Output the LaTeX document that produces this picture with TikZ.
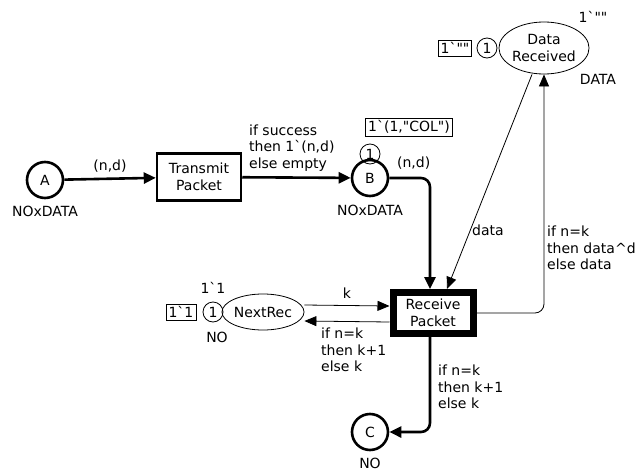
\documentclass[tikz,border=0pt]{standalone}
\usepackage{fontspec}
\newfontfamily\cpnfont{DejaVu Sans}
\usepackage{tikz}
\usetikzlibrary{arrows.meta,shapes,shapes.geometric,positioning}
\tikzstyle{place} = [circle, draw, line width=2.6pt, minimum size=36pt, inner sep=0pt]
\tikzstyle{oplace} = [ellipse, draw, line width=0.8pt, inner sep=0pt]
\tikzstyle{trans} = [rectangle, draw, line width=2.5pt, minimum width=84pt, minimum height=47pt, align=center, inner sep=0pt]
\tikzstyle{token} = [circle, draw, line width=0.8pt, minimum size=20pt, inner sep=0pt]
\tikzstyle{initmark} = [rectangle, draw, line width=0.8pt, inner sep=2.5pt]
\tikzstyle{thickarc} = [line width=2.6pt, ->, >={Triangle[length=12pt,width=11pt]}, rounded corners=9pt]
\tikzstyle{thinarc} = [line width=0.8pt, ->, >={Triangle[length=12pt,width=10pt]}, rounded corners=9pt]
\tikzstyle{inscr} = [align=left, inner sep=0pt]

\begin{document}
\begin{tikzpicture}[x=1pt, y=-1pt, font=\cpnfont\fontsize{14}{16.5}\selectfont]
\useasboundingbox (0,0) rectangle (638,474);
% places
\node (A) [place] at (45,180) {A};
\node (B) [token] at (370,154) {1};
\node (Bpl) [place] at (370,178) {B};
\node (C) [place] at (370,432) {C};
\node (dr) [oplace, minimum width=90pt, minimum height=52pt, align=center] at (544,48) {Data\\Received};
\node (nr) [oplace, minimum width=82pt, minimum height=36pt] at (263,312) {NextRec};

% transitions
\node (tp) [trans] at (199,177) {Transmit\\Packet};
\node (rp) [trans, line width=7pt, minimum width=80pt, minimum height=41pt] at (433,313) {Receive\\Packet};

% markings and colour sets
\node (Atype) at (45,211) {NOxDATA};
\node (Btype) at (370,210) {NOxDATA};
\node (Ctype) at (370,463) {NO};
\node (Bmark) [initmark] at (409,127) {1`(1,"COL")};
\node (drtok) [token] at (487,48) {1};
\node (drmark) [initmark] at (455,48) {1`""};
\node (drinit) at (593,17) {1`""};
\node (drtype) at (598,79) {DATA};
\node (nrtok) [token] at (213,312) {1};
\node (nrmark) [initmark] at (181,312) {1`1};
\node (nrinit) at (213,288) {1`1};
\node (nrtype) at (217,337) {NO};

% arcs
\draw[thickarc] (A) -- node[above=2pt] {(n,d)} (tp);
\draw[thickarc] (tp) -- (Bpl);
\node (tpout) [inscr, anchor=west] at (249,148) {if success\\then 1`(n,d)\\else empty};
\draw[thickarc] (Bpl.east) -| node[pos=0.3, above=4pt] {(n,d)} ([xshift=-3pt]rp.north);
\draw[thinarc] ([xshift=-12pt]dr.south) -- ([xshift=14pt]rp.north);
\node (datalbl) at (488,230) {data};
\draw[thinarc] (rp.east) -| (dr.south);
\node (drout) [inscr, anchor=west] at (547,248) {if n=k\\then data\textasciicircum d\\else data};
\draw[thinarc] ([yshift=7pt]nr.east) -- node[above=3pt] {k} ([yshift=7pt]rp.west);
\draw[thinarc] ([yshift=-9pt]rp.west) -- ([yshift=-9pt]nr.east);
\node (nrout) [inscr, anchor=west] at (321,350) {if n=k\\then k+1\\else k};
\draw[thickarc] ([xshift=-3pt]rp.south) |- (C.east);
\node (cout) [inscr, anchor=west] at (438,387) {if n=k\\then k+1\\else k};
\end{tikzpicture}
\end{document}
